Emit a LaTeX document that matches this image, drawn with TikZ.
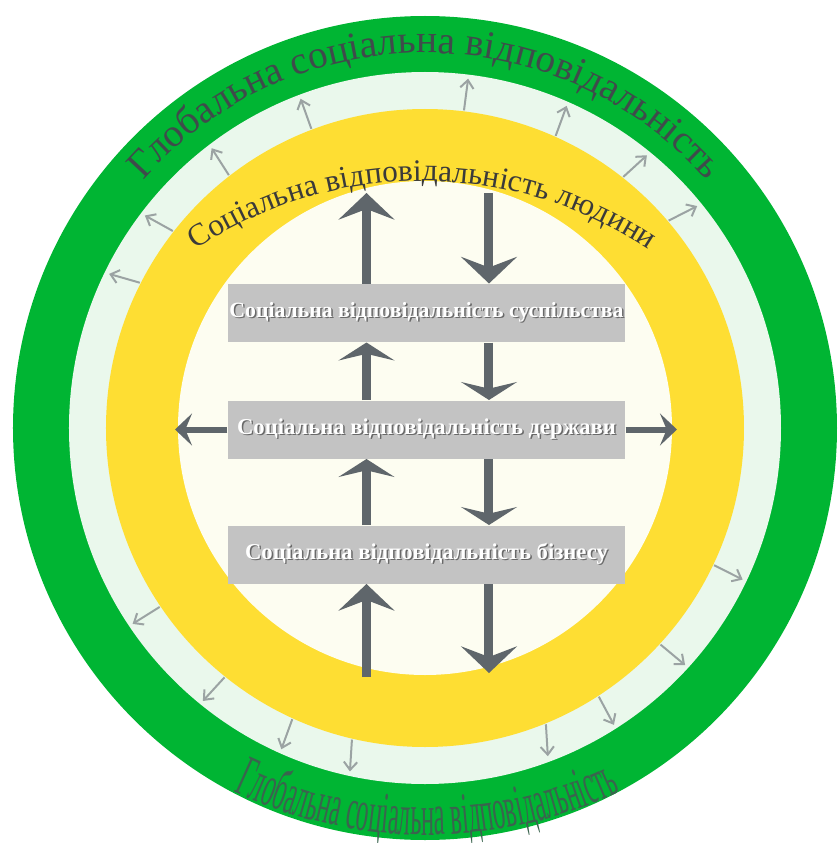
\documentclass[tikz,border=0pt]{standalone}
\usepackage{fontspec}
\setmainfont{Liberation Serif}
\newfontfamily\tallserif[FakeStretch=0.42]{Liberation Serif}
\usetikzlibrary{arrows.meta,decorations.text}

\definecolor{ringgreen}{RGB}{0,181,51}
\definecolor{ringpale}{RGB}{234,248,236}
\definecolor{ringyellow}{RGB}{254,222,51}
\definecolor{corecream}{RGB}{253,253,241}
\definecolor{boxgrey}{RGB}{195,195,195}
\definecolor{arrowdark}{RGB}{95,102,107}
\definecolor{arrowpale}{RGB}{155,163,163}
\definecolor{textslate}{RGB}{63,75,75}
\definecolor{textdeep}{RGB}{58,58,58}
\definecolor{textmoss}{RGB}{58,100,78}
\definecolor{shadowgrey}{RGB}{105,105,105}

\newcommand{\shadowed}[1]{\leavevmode\rlap{\kern1.1pt\raisebox{-1.1pt}{\textcolor{shadowgrey}{#1}}}#1}

\tikzset{every picture/.style={line width=0.75pt}}
\tikzset{
  levelbox/.style={fill=boxgrey, minimum width=297.75pt, minimum height=43.5pt, inner sep=0pt,
    text=white, font=\fontsize{17}{20}\selectfont\bfseries},
  bigtip/.style={draw=arrowdark, line width=6.75pt, -{Stealth[length=20pt,width=42pt,inset=8pt]}},
  midtip/.style={draw=arrowdark, line width=6.75pt, -{Stealth[length=13.5pt,width=42pt,inset=5pt]}},
  sidetip/.style={draw=arrowdark, line width=4.5pt, -{Stealth[length=12.75pt,width=24pt,inset=5pt]}},
  ripple/.style={draw=arrowpale, line width=1.5pt, -{Straight Barb[length=6pt,width=10pt]}}
}

\begin{document}
\begin{tikzpicture}[x=0.75pt,y=0.75pt,yscale=1,xscale=1]
\useasboundingbox (-425,-415) rectangle (414,428);

%Shape: Circle (rings)
\fill[ringgreen] (0,0) circle (412);
\fill[ringpale] (0,0) circle (356);
\fill[ringyellow] (0,0) circle (319);
\fill[corecream] (0,0) circle (247);

%Straight Lines (small arrows out of the yellow ring)
\foreach \p/\d in {153/164, 142/151, 127.8/122.6, 110.8/109.7, 83/82.6, 65.9/69.9, 51.7/42.5, 40.4/27,
  -25.4/-26.6, -42.6/-39.8, -57.1/-61.8, -67.8/-86.5, -103.2/-93.6, -114.5/-110, -128.8/-132.5, -146/-148}
  \draw[ripple] (\p:320) -- ++(\d:32);

% Text Node (curved)
\path[decorate, decoration={text along path, text color=textslate, text align=center,
  text={|\fontsize{29.5}{31}\selectfont|Глобальна соціальна відповідальність}}]
  (142:375) arc[start angle=142, end angle=38, radius=375];
\path[decorate, decoration={text along path, text color=textdeep, text align=center,
  text={|\fontsize{23.5}{26}\selectfont|Соціальна відповідальність людини}}]
  ([shift={(-3,-162)}]125:409) arc[start angle=125, end angle=55, radius=409];
\path[decorate, decoration={text along path, text color=textmoss, text align=center,
  text={|\tallserif\fontsize{44}{46}\selectfont|Глобальна соціальна відповідальність}}]
  ([shift={(2,48)}]-118:455) arc[start angle=-118, end angle=-62, radius=455];

% Text Node
\node[levelbox, font=\fontsize{16.3}{20}\selectfont\bfseries] (suspilstvo) at (1.5,115) {\shadowed{Соціальна відповідальність суспільства}};
\node[levelbox] (derzhava) at (1.5,-1.5) {\shadowed{Соціальна відповідальність держави}};
\node[levelbox] (biznes) at (1.5,-126.5) {\shadowed{Соціальна відповідальність бізнесу}};

\coordinate (upcol) at (-58.5,0);
\coordinate (downcol) at (64,0);
\coordinate (humanup) at (-58.5,235);
\coordinate (humandown) at (64,235);
\coordinate (baseup) at (-58.5,-249);
\coordinate (basedown) at (64,-245);
\coordinate (leftout) at (-250,-1.5);
\coordinate (rightout) at (252,-1.5);

%Straight Lines
\draw[bigtip] (suspilstvo.north -| upcol) -- (humanup);
\draw[bigtip] (humandown) -- (suspilstvo.north -| downcol);
\draw[midtip] (derzhava.north -| upcol) -- (suspilstvo.south -| upcol);
\draw[midtip] (suspilstvo.south -| downcol) -- (derzhava.north -| downcol);
\draw[midtip] (biznes.north -| upcol) -- (derzhava.south -| upcol);
\draw[midtip] (derzhava.south -| downcol) -- (biznes.north -| downcol);
\draw[bigtip] (baseup) -- (biznes.south -| upcol);
\draw[bigtip] (biznes.south -| downcol) -- (basedown);
\draw[sidetip] (derzhava.west) -- (leftout);
\draw[sidetip] (derzhava.east) -- (rightout);

\end{tikzpicture}
\end{document}
